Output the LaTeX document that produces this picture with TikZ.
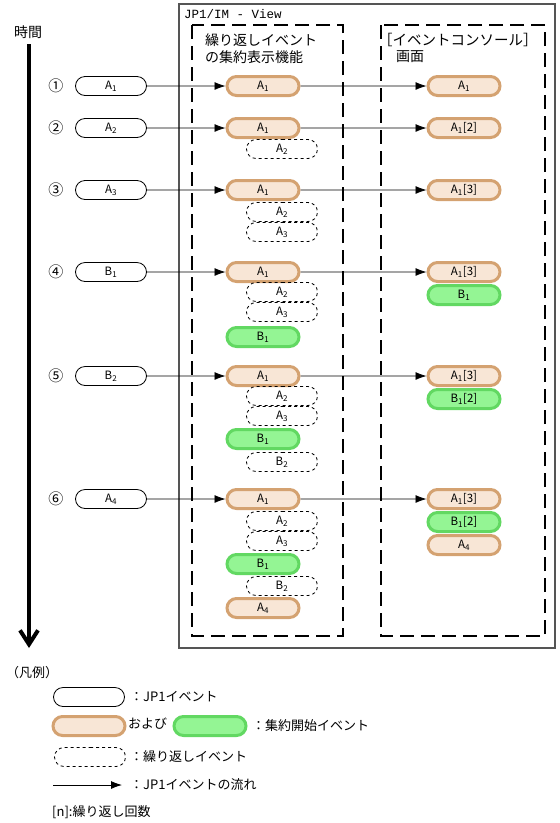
\documentclass[tikz,border=0pt]{standalone}
\usepackage{fontspec}
\setmainfont{Noto Sans CJK JP}
\newfontfamily\monofnt{Liberation Mono}
\usetikzlibrary{shapes.misc,arrows.meta}
\definecolor{orfill}{HTML}{F8E6D6}
\definecolor{ordraw}{HTML}{D4A271}
\definecolor{grfill}{HTML}{94F594}
\definecolor{grdraw}{HTML}{62D862}
\definecolor{boxgray}{HTML}{555555}
\tikzset{
  lbl/.style={font=\fontsize{11.5}{13}\selectfont, inner sep=0pt},
  jp/.style={font=\fontsize{14}{16}\selectfont, inner sep=0pt},
  lg/.style={font=\fontsize{13}{15}\selectfont, inner sep=0pt, anchor=west},
  pill/.style={rounded rectangle, lbl},
  jpone/.style={pill, draw, line width=0.8pt, minimum width=71pt, minimum height=19pt},
  aggor/.style={pill, draw=ordraw, fill=orfill, line width=3pt, minimum width=72pt, minimum height=19pt},
  agggr/.style={pill, draw=grdraw, fill=grfill, line width=3pt, minimum width=72pt, minimum height=19pt},
  repev/.style={pill, draw, dashed, line width=0.8pt, minimum width=71pt, minimum height=19pt},
  flow/.style={line width=0.8pt, -{Latex[length=11pt,width=8pt]}},
  dbox/.style={line width=2pt, dash pattern=on 14pt off 7pt},
  circnum/.style={font=\fontsize{15}{17}\selectfont, inner sep=0pt},
}
\begin{document}
\begin{tikzpicture}[x=1pt,y=-1pt]
\useasboundingbox (0,0) rectangle (560,823);
% time axis
\node[jp] (time) at (28,32) {時間};
\coordinate (t0) at (29,44);
\coordinate (t1) at (29,648);
\draw[line width=4pt, -{Straight Barb[length=14pt,width=18pt]}] (t0) -- (t1);
% outer box
\draw[boxgray, line width=1.2pt] (179,4) rectangle (555,648);
\node[anchor=west, inner sep=0pt, font=\monofnt\fontsize{12.5}{14}\selectfont] (title) at (184,14) {JP1/IM - View};
% dashed boxes
\draw[dbox] (192,25) rectangle (343,636);
\draw[dbox] (381,25) rectangle (545,636);
\node[jp, anchor=west] (h1a) at (205,40) {繰り返しイベント};
\node[jp, anchor=west] (h1b) at (205,57) {の集約表示機能};
\node[jp, anchor=west, font=\fontsize{14.5}{16}\selectfont] (h2a) at (378,40) {［イベントコンソール］};
\node[jp, anchor=west] (h2b) at (396,57) {画面};
% row 1
\node[circnum] (n1) at (56,86) {①};
\node[jpone] (in1) at (111,86) {A\textsubscript{1}};
\node[aggor] (c1) at (263,86) {A\textsubscript{1}};
\node[aggor] (r1) at (464,86) {A\textsubscript{1}};
\draw[flow] (in1) -- (c1);
\draw[flow] (c1) -- (r1);
% row 2
\node[circnum] (n2) at (56,128) {②};
\node[jpone] (in2) at (111,128) {A\textsubscript{2}};
\node[aggor] (c2) at (263,128) {A\textsubscript{1}};
\node[repev] (c2a) at (282,149) {A\textsubscript{2}};
\node[aggor] (r2) at (464,128) {A\textsubscript{1}[2]};
\draw[flow] (in2) -- (c2);
\draw[flow] (c2) -- (r2);
% row 3
\node[circnum] (n3) at (56,190) {③};
\node[jpone] (in3) at (111,190) {A\textsubscript{3}};
\node[aggor] (c3) at (263,190) {A\textsubscript{1}};
\node[repev] (c3a) at (282,212) {A\textsubscript{2}};
\node[repev] (c3b) at (282,232) {A\textsubscript{3}};
\node[aggor] (r3) at (464,190) {A\textsubscript{1}[3]};
\draw[flow] (in3) -- (c3);
\draw[flow] (c3) -- (r3);
% row 4
\node[circnum] (n4) at (56,272) {④};
\node[jpone] (in4) at (111,272) {B\textsubscript{1}};
\node[aggor] (c4) at (263,272) {A\textsubscript{1}};
\node[repev] (c4a) at (282,292) {A\textsubscript{2}};
\node[repev] (c4b) at (282,312) {A\textsubscript{3}};
\node[agggr] (c4c) at (263,337) {B\textsubscript{1}};
\node[aggor] (r4) at (464,272) {A\textsubscript{1}[3]};
\node[agggr] (r4b) at (464,295) {B\textsubscript{1}};
\draw[flow] (in4) -- (c4);
\draw[flow] (c4) -- (r4);
% row 5
\node[circnum] (n5) at (56,376) {⑤};
\node[jpone] (in5) at (111,376) {B\textsubscript{2}};
\node[aggor] (c5) at (263,376) {A\textsubscript{1}};
\node[repev] (c5a) at (282,396) {A\textsubscript{2}};
\node[repev] (c5b) at (282,416) {A\textsubscript{3}};
\node[agggr] (c5c) at (263,439) {B\textsubscript{1}};
\node[repev] (c5d) at (282,462) {B\textsubscript{2}};
\node[aggor] (r5) at (464,376) {A\textsubscript{1}[3]};
\node[agggr] (r5b) at (464,399) {B\textsubscript{1}[2]};
\draw[flow] (in5) -- (c5);
\draw[flow] (c5) -- (r5);
% row 6
\node[circnum] (n6) at (56,499) {⑥};
\node[jpone] (in6) at (111,499) {A\textsubscript{4}};
\node[aggor] (c6) at (263,499) {A\textsubscript{1}};
\node[repev] (c6a) at (282,521) {A\textsubscript{2}};
\node[repev] (c6b) at (282,541) {A\textsubscript{3}};
\node[agggr] (c6c) at (263,564) {B\textsubscript{1}};
\node[repev] (c6d) at (282,586) {B\textsubscript{2}};
\node[aggor] (c6e) at (263,608) {A\textsubscript{4}};
\node[aggor] (r6) at (464,499) {A\textsubscript{1}[3]};
\node[agggr] (r6b) at (464,522) {B\textsubscript{1}[2]};
\node[aggor] (r6c) at (464,545) {A\textsubscript{4}};
\draw[flow] (in6) -- (c6);
\draw[flow] (c6) -- (r6);
% legend
\node[lg] (leg) at (6,673) {（凡例）};
\node[jpone] (l1) at (89,697) {};
\node[lg] (l1t) at (130,697) {：JP1イベント};
\node[aggor] (l2) at (89,726) {};
\node[lg] (l2t) at (128,724) {および};
\node[agggr] (l2g) at (210,726) {};
\node[lg] (l2u) at (252,726) {：集約開始イベント};
\node[repev] (l3) at (90,757) {};
\node[lg] (l3t) at (130,757) {：繰り返しイベント};
\coordinate (la1) at (53,785);
\coordinate (la2) at (122,785);
\draw[flow] (la1) -- (la2);
\node[lg] (l4t) at (130,785) {：JP1イベントの流れ};
\node[lg] (l5t) at (52,812) {[n]:繰り返し回数};
\end{tikzpicture}
\end{document}
